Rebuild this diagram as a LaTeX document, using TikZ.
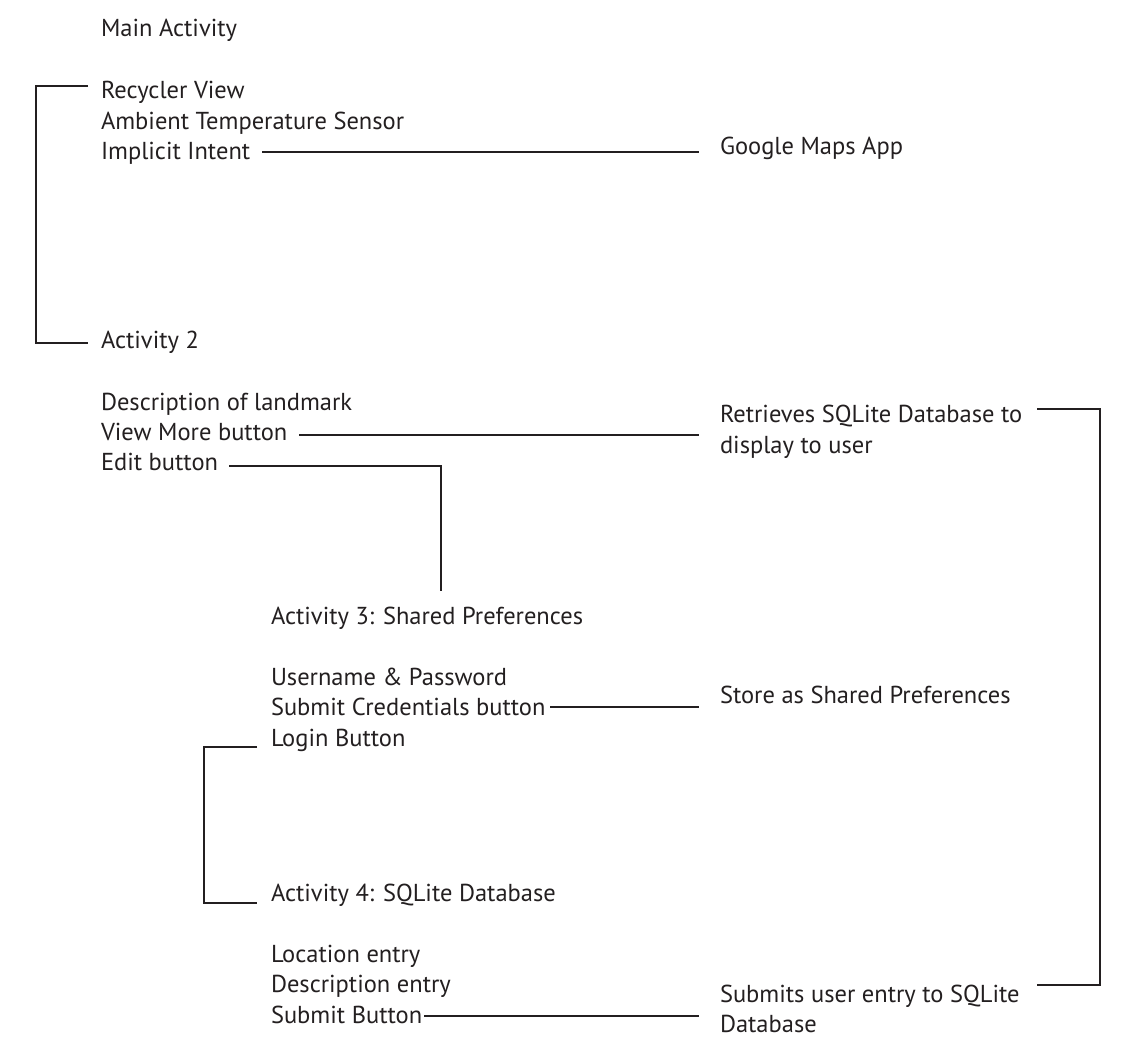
\documentclass[tikz,border=0pt]{standalone}
\usepackage{fontspec}
\setmainfont{PT Sans}
\usetikzlibrary{calc}
\definecolor{ink}{HTML}{231F20}
\begin{document}
\begin{tikzpicture}[x=1pt,y=-1pt,
  txt/.style={anchor=base west, inner sep=0pt, outer sep=0pt, text=ink, font=\fontsize{24.5}{30}\selectfont},
  ln/.style={draw=ink, line width=1.8pt}]
\useasboundingbox (0,0) rectangle (1126,1062);
\node[txt] (main) at (101,37) {Main Activity};
\node[txt] (rv) at (101,99) {Recycler View};
\node[txt] (amb) at (101,129) {Ambient Temperature Sensor};
\node[txt] (imp) at (101,159) {Implicit Intent};
\node[txt] (gm) at (720,154) {Google Maps App};
\node[txt] (a2) at (101,348) {Activity 2};
\node[txt] (desc) at (101,410) {Description of landmark};
\node[txt] (vm) at (101,440) {View More button};
\node[txt] (edit) at (101,470) {Edit button};
\node[txt] (ret1) at (720,422) {Retrieves SQLite Database to};
\node[txt] (ret2) at (720,453) {display to user};
\node[txt] (a3) at (271,624) {Activity 3: Shared Preferences};
\node[txt] (up) at (271,685) {Username \& Password};
\node[txt] (sc) at (271,715) {Submit Credentials button};
\node[txt] (login) at (271,746) {Login Button};
\node[txt] (store) at (720,703) {Store as Shared Preferences};
\node[txt] (a4) at (271,901) {Activity 4: SQLite Database};
\node[txt] (loc) at (271,962) {Location entry};
\node[txt] (de) at (271,992) {Description entry};
\node[txt] (sb) at (271,1023) {Submit Button};
\node[txt] (sub1) at (720,1002) {Submits user entry to SQLite};
\node[txt] (sub2) at (720,1032) {Database};
% brackets
\draw[ln] ($(rv.base west)+(-13,-13)$) -- ++(-52,0) |- ($(a2.base west)+(-13,-5)$);
\draw[ln] ($(login.base west)+(-14,1)$) -- ++(-53,0) |- ($(a4.base west)+(-14,2)$);
\draw[ln] ($(ret1.base west)+(317,-13)$) -- ++(63,0) |- ($(sub1.base west)+(317,-17)$);
% connectors
\draw[ln] ($(imp.base east)+(12,-7)$) -- ($(gm.base west)+(-21,-2)$);
\draw[ln] ($(vm.base east)+(12,-5)$) -- ($(ret1.base west)+(-21,13)$);
\draw[ln] ($(edit.base east)+(11,-4)$) -| ($(a3.base west)+(170,-33)$);
\draw[ln] ($(sc.base east)+(5,-8)$) -- ($(store.base west)+(-21,4)$);
\draw[ln] ($(sb.base east)+(2,-7)$) -- ($(sub1.base west)+(-21,14)$);
\end{tikzpicture}
\end{document}
